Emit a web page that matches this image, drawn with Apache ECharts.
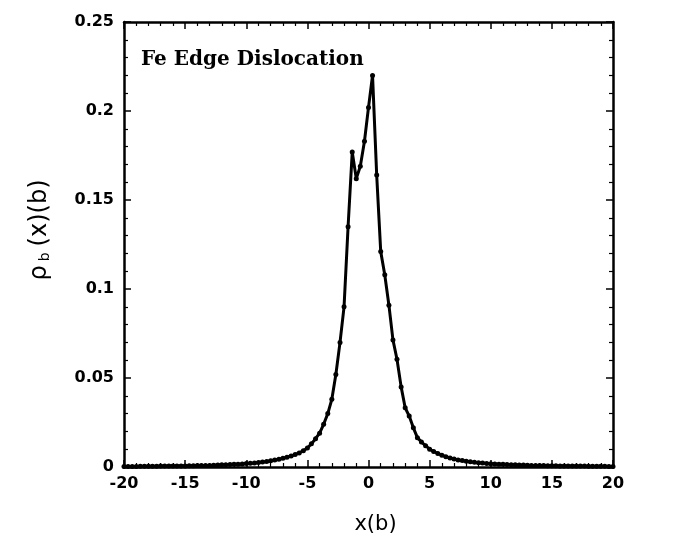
<!DOCTYPE html>
<html>
<head>
<meta charset="utf-8">
<script src="https://cdn.jsdelivr.net/npm/echarts@6/dist/echarts.min.js"></script>
<style>
  html, body { margin: 0; padding: 0; background: #fff; }
  #chart { width: 677px; height: 552px; }
</style>
</head>
<body>
<div id="chart"></div>
<script>
// Dislocation density profile along the glide direction (units of b)
const xPositions = [
  -20.00, -19.67, -19.33, -19.00, -18.67, -18.33, -18.00, -17.67, -17.33, -17.00, -16.67, -16.33,
  -16.00, -15.67, -15.33, -15.00, -14.67, -14.33, -14.00, -13.67, -13.33, -13.00, -12.67, -12.33,
  -12.00, -11.67, -11.33, -11.00, -10.67, -10.33, -10.00, -9.67, -9.33, -9.00, -8.67, -8.33,
  -8.00, -7.67, -7.33, -7.00, -6.67, -6.33, -6.00, -5.67, -5.33, -5.00, -4.67, -4.33,
  -4.00, -3.67, -3.33, -3.00, -2.67, -2.33, -2.00, -1.67, -1.33, -1.00, -0.67, -0.33,
  0.00,
  0.33, 0.67, 1.00, 1.33, 1.67, 2.00, 2.33, 2.67, 3.00, 3.33, 3.67, 4.00,
  4.33, 4.67, 5.00, 5.33, 5.67, 6.00, 6.33, 6.67, 7.00, 7.33, 7.67, 8.00,
  8.33, 8.67, 9.00, 9.33, 9.67, 10.00, 10.33, 10.67, 11.00, 11.33, 11.67, 12.00,
  12.33, 12.67, 13.00, 13.33, 13.67, 14.00, 14.33, 14.67, 15.00, 15.33, 15.67, 16.00,
  16.33, 16.67, 17.00, 17.33, 17.67, 18.00, 18.33, 18.67, 19.00, 19.33, 19.67, 20.00
];

const densityValues = [
  0.0003, 0.0003, 0.0003, 0.0003, 0.0004, 0.0004, 0.0004, 0.0004, 0.0004, 0.0005, 0.0005, 0.0005,
  0.0005, 0.0006, 0.0006, 0.0006, 0.0007, 0.0007, 0.0008, 0.0008, 0.0009, 0.0009, 0.0010, 0.0011,
  0.0012, 0.0013, 0.0014, 0.0015, 0.0016, 0.0017, 0.0019, 0.0021, 0.0023, 0.0025, 0.0028, 0.0031,
  0.0035, 0.0039, 0.0044, 0.0049, 0.0055, 0.0062, 0.0070, 0.0079, 0.0091, 0.0107, 0.0130, 0.0159,
  0.0190, 0.0240, 0.0300, 0.0380, 0.0520, 0.0700, 0.0900, 0.1350, 0.1770, 0.1620, 0.1690, 0.1830,
  0.2020,
  0.2200, 0.1640, 0.1210, 0.1080, 0.0909, 0.0714, 0.0605, 0.0450, 0.0333, 0.0286, 0.0220, 0.0165,
  0.0140, 0.0120, 0.0100, 0.0087, 0.0076, 0.0066, 0.0058, 0.0051, 0.0045, 0.0040, 0.0036, 0.0032,
  0.0029, 0.0026, 0.0024, 0.0022, 0.0020, 0.0018, 0.0017, 0.0016, 0.0015, 0.0014, 0.0013, 0.0012,
  0.0011, 0.0011, 0.0010, 0.0009, 0.0009, 0.0008, 0.0008, 0.0007, 0.0007, 0.0007, 0.0006, 0.0006,
  0.0006, 0.0005, 0.0005, 0.0005, 0.0005, 0.0004, 0.0004, 0.0004, 0.0004, 0.0004, 0.0003, 0.0003
];

const xTicks = { min: -20, max: 20, step: 5 };
const yTicks = { min: 0, max: 0.25, step: 0.05 };
const plotTitle = 'Fe Edge Dislocation';
const xName = 'x(b)';

const points = xPositions.map((x, i) => [x, densityValues[i]]);

const sansFamily = 'DejaVu Sans, Liberation Sans, Arial, sans-serif';
const labelFont = { color: '#000', fontSize: 16, fontWeight: 'bold', fontFamily: sansFamily };

function frameAxis(position, showLabels, extra) {
  return Object.assign({
    type: 'value',
    position: position,
    axisLine: { show: true, onZero: false, lineStyle: { color: '#000', width: 2.5 } },
    axisTick: { show: true, inside: true, length: 7, lineStyle: { color: '#000', width: 1.5 } },
    minorTick: { show: true, splitNumber: 5, length: 4, lineStyle: { color: '#000', width: 1.2 } },
    splitLine: { show: false },
    axisLabel: Object.assign({ show: showLabels }, labelFont)
  }, extra);
}

const chart = echarts.init(document.getElementById('chart'), null, { renderer: 'canvas' });

chart.setOption({
  animation: false,
  backgroundColor: '#fff',
  grid: { left: 124, right: 64, top: 22, bottom: 85, containLabel: false },
  title: {
    text: plotTitle,
    left: 136, top: 45,
    textStyle: { color: '#000', fontSize: 20, fontWeight: 'bold', fontFamily: 'DejaVu Serif, Liberation Serif, serif' }
  },
  graphic: [{
    type: 'text',
    x: 40, y: 230,
    rotation: Math.PI / 2,
    style: {
      text: '{r|ρ}{s|b}{n|(x)(b)}',
      align: 'center',
      verticalAlign: 'middle',
      fill: '#000',
      rich: {
        r: { fontSize: 24, fill: '#000', fontFamily: sansFamily, padding: [0, 4, 0, 0] },
        s: { fontSize: 14, fill: '#000', fontFamily: sansFamily, verticalAlign: 'bottom', padding: [0, 6, 0, 0] },
        n: { fontSize: 24, fill: '#000', fontFamily: sansFamily }
      }
    }
  }],
  xAxis: [
    frameAxis('bottom', true, {
      min: xTicks.min, max: xTicks.max, interval: xTicks.step,
      axisLabel: Object.assign({ show: true, margin: 9 }, labelFont),
      name: xName, nameLocation: 'middle', nameGap: 47,
      nameTextStyle: { color: '#000', fontSize: 21, fontFamily: sansFamily, padding: [0, 0, 0, 14] }
    }),
    frameAxis('top', false, { min: xTicks.min, max: xTicks.max, interval: xTicks.step })
  ],
  yAxis: [
    frameAxis('left', true, {
      min: yTicks.min, max: yTicks.max, interval: yTicks.step,
      axisLabel: Object.assign({ show: true, margin: 10 }, labelFont)
    }),
    frameAxis('right', false, { min: yTicks.min, max: yTicks.max, interval: yTicks.step })
  ],
  series: [{
    type: 'line',
    data: points,
    xAxisIndex: 0,
    yAxisIndex: 0,
    symbol: 'circle',
    symbolSize: 5,
    showAllSymbol: true,
    lineStyle: { color: '#000', width: 3 },
    itemStyle: { color: '#000' },
    z: 3
  }]
});
</script>
</body>
</html>
